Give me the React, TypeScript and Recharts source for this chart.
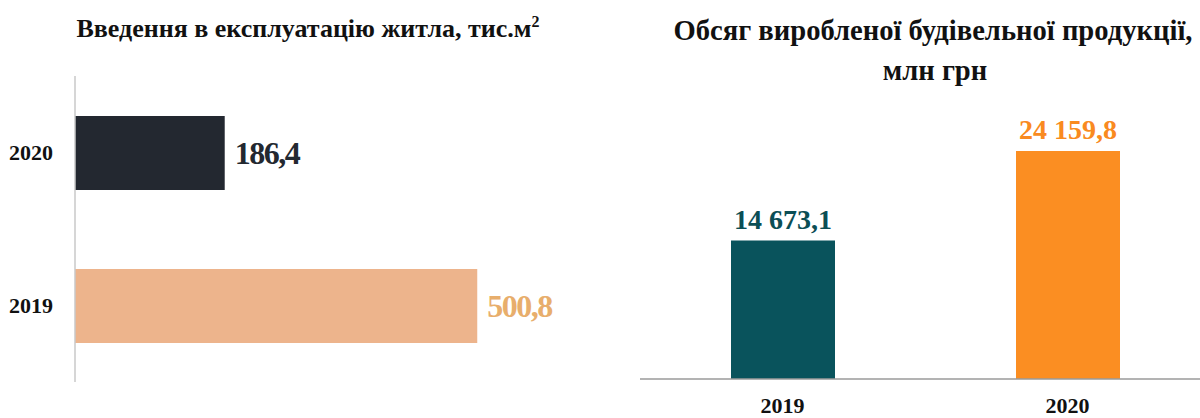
import { Bar, BarChart, Cell, LabelList, XAxis, YAxis } from "recharts"

// Введення в експлуатацію житла, тис.м2
const housingYears = ["2020", "2019"]
const housingValues = [186.4, 500.8]

// Обсяг виробленої будівельної продукції, млн грн
const outputYears = ["2019", "2020"]
const outputValues = [14673.1, 24159.8]

const housingData = housingYears.map((year, i) => ({ year, value: housingValues[i] }))
const outputData = outputYears.map((year, i) => ({ year, value: outputValues[i] }))

const housingBarColors = ["#232830", "#edb48c"]
const housingLabelColors = ["#232830", "#e8ae6c"]
const outputBarColors = ["#09535c", "#fb8e22"]
const outputLabelColors = ["#0b4e55", "#f98a20"]

const FONT = "'Liberation Serif', 'Times New Roman', serif"

function formatValue(v: number) {
  const [int, dec] = v.toFixed(1).split(".")
  return int.replace(/\B(?=(\d{3})+(?!\d))/g, " ") + "," + dec
}

function HousingLabel(props: any) {
  const { x, y, width, height, value } = props
  const i = housingValues.indexOf(value)
  return (
    <text
      x={x + width + 10}
      y={y + height / 2}
      dy="0.355em"
      fill={housingLabelColors[i]}
      fontFamily={FONT}
      fontWeight="bold"
      fontSize={32}
      letterSpacing={-1.5}
    >
      {formatValue(value)}
    </text>
  )
}

function OutputLabel(props: any) {
  const { x, y, width, value } = props
  const i = outputValues.indexOf(value)
  return (
    <text
      x={x + width / 2}
      y={y - 12}
      textAnchor="middle"
      fill={outputLabelColors[i]}
      fontFamily={FONT}
      fontWeight="bold"
      fontSize={28}
    >
      {formatValue(value)}
    </text>
  )
}

export default function App() {
  return (
    <div
      style={{
        position: "absolute",
        left: 0,
        top: 0,
        width: 1200,
        height: 418,
        overflow: "hidden",
        background: "#fff",
      }}
    >
      <div style={{ position: "absolute", left: 0, top: 0 }}>
        <BarChart
          width={600}
          height={418}
          layout="vertical"
          data={housingData}
          margin={{ top: 76, right: 27, bottom: 36, left: 0 }}
        >
          <XAxis type="number" domain={[0, 620]} hide />
          <YAxis
            type="category"
            dataKey="year"
            width={75}
            tickLine={false}
            tickSize={0}
            tickMargin={22}
            axisLine={{ stroke: "#c8c8c8", strokeWidth: 1.5 }}
            tick={{ fill: "#111", fontFamily: FONT, fontWeight: "bold", fontSize: 22 }}
          />
          <Bar dataKey="value" barSize={74} isAnimationActive={false}>
            {housingData.map((d, i) => (
              <Cell key={d.year} fill={housingBarColors[i]} />
            ))}
            <LabelList dataKey="value" content={HousingLabel} />
          </Bar>
        </BarChart>
      </div>

      <div style={{ position: "absolute", left: 600, top: 0 }}>
        <BarChart
          width={620}
          height={418}
          data={outputData}
          margin={{ top: 96, right: 10, bottom: 0, left: 40 }}
        >
          <XAxis
            dataKey="year"
            height={39}
            tickLine={false}
            tickSize={0}
            tickMargin={18}
            axisLine={{ stroke: "#9a9a9a", strokeWidth: 1.5 }}
            tick={{ fill: "#111", fontFamily: FONT, fontWeight: "bold", fontSize: 22 }}
          />
          <YAxis type="number" domain={[0, 30000]} hide />
          <Bar dataKey="value" barSize={104} isAnimationActive={false}>
            {outputData.map((d, i) => (
              <Cell key={d.year} fill={outputBarColors[i]} />
            ))}
            <LabelList dataKey="value" content={OutputLabel} />
          </Bar>
        </BarChart>
      </div>

      <svg
        width={1200}
        height={418}
        style={{ position: "absolute", left: 0, top: 0, pointerEvents: "none" }}
      >
        <text
          x={308}
          y={37}
          textAnchor="middle"
          fontFamily={FONT}
          fontWeight="bold"
          fontSize={26}
          fill="#111"
        >
          Введення в експлуатацію житла, тис.м<tspan dy={-10} fontSize={16}>2</tspan>
        </text>
        <text
          x={933}
          y={40}
          textAnchor="middle"
          fontFamily={FONT}
          fontWeight="bold"
          fontSize={28.6}
          fill="#111"
        >
          Обсяг виробленої будівельної продукції,
        </text>
        <text
          x={935}
          y={80}
          textAnchor="middle"
          fontFamily={FONT}
          fontWeight="bold"
          fontSize={28.6}
          fill="#111"
        >
          млн грн
        </text>
      </svg>
    </div>
  )
}
